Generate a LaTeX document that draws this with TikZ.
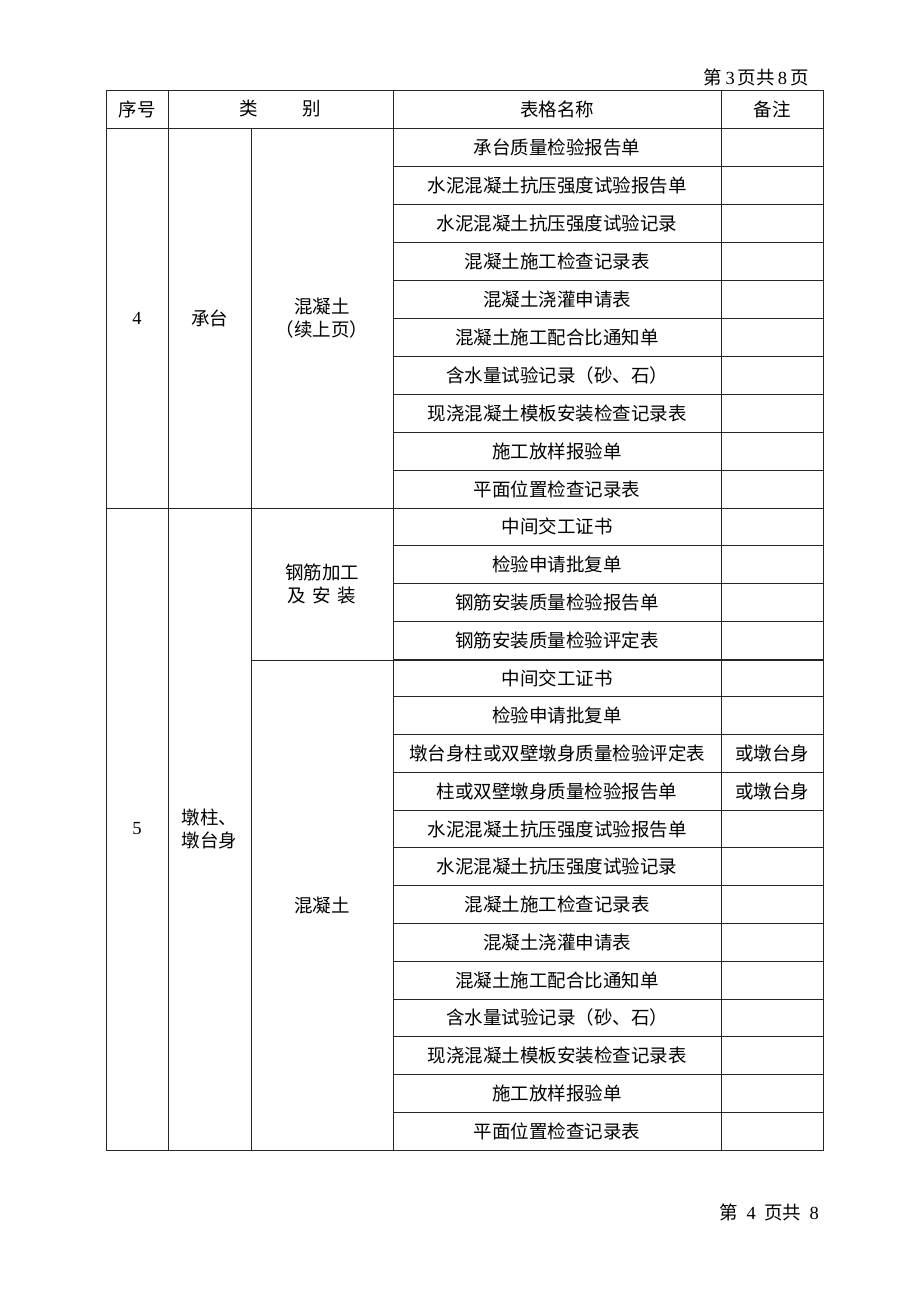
\documentclass[tikz,border=0pt]{standalone}
\usepackage{fontspec}
\setmainfont{Liberation Serif}
\newfontfamily\cjk{Noto Sans CJK SC}
\begin{document}
\begin{tikzpicture}[x=1pt,y=-1pt,
  cell/.style={inner sep=0pt,font=\cjk\fontsize{18.5}{23}\selectfont,align=center},
  grid/.style={line width=0.9pt,draw=black!85}]
\fill[white] (0,0) rectangle (920,1302);
\useasboundingbox (0,0) rectangle (920,1302);
% page headers
\node[cell,anchor=east] (ph1) at (809,77) {第{\rmfamily\,3\,}页共{\rmfamily\,8\,}页};
\node[cell,anchor=east] (ph2) at (819,1212) {第\hspace{0.45em}{\rmfamily 4}\hspace{0.45em}页共\hspace{0.45em}{\rmfamily 8}};
% outer frame and vertical lines
\draw[grid] (106,90) rectangle (823,1150);
\foreach \x in {168,393,721} \draw[grid] (\x,90) -- (\x,1150);
\draw[grid] (251,128) -- (251,1150);
% header line
\draw[grid] (106,128) -- (823,128);
% group lines
\draw[grid] (106,508) -- (823,508);
\draw[grid] (251,660) -- (823,660);
% row lines in the right columns
\foreach \k in {1,...,10} \draw[grid] (393,{128+38*\k}) -- (823,{128+38*\k});
\foreach \k in {1,...,16} \draw[grid] (393,{508+642/17*\k}) -- (823,{508+642/17*\k});
% header texts
\node[cell] (h1) at (137,109) {序号};
\node[cell] (h2) at (280,109) {类\hspace{2.4em}别};
\node[cell] (h3) at (557,109) {表格名称};
\node[cell] (h4) at (772,109) {备注};
% group 4
\node[cell] (g4n) at (137,318) {\rmfamily 4};
\node[cell] (g4a) at (209.5,318) {承台};
\node[cell] (g4b) at (322,318) {混凝土\\（续上页）};
\foreach \k/\t in {1/承台质量检验报告单,2/水泥混凝土抗压强度试验报告单,3/水泥混凝土抗压强度试验记录,4/混凝土施工检查记录表,5/混凝土浇灌申请表,6/混凝土施工配合比通知单,7/含水量试验记录（砂、石）,8/现浇混凝土模板安装检查记录表,9/施工放样报验单,10/平面位置检查记录表}
  \node[cell] (a\k) at (557,{128+38*(\k-0.5)}) {\t};
% group 5
\node[cell] (g5n) at (137,829) {\rmfamily 5};
\node[cell,align=left] (g5a) at (209.5,829) {墩柱、\\墩台身};
\node[cell] (g5b) at (322,584) {钢筋加工\\及\hspace{0.35em}安\hspace{0.35em}装};
\node[cell] (g5c) at (322,905) {混凝土};
\foreach \k/\t in {1/中间交工证书,2/检验申请批复单,3/钢筋安装质量检验报告单,4/钢筋安装质量检验评定表,5/中间交工证书,6/检验申请批复单,7/墩台身柱或双壁墩身质量检验评定表,8/柱或双壁墩身质量检验报告单,9/水泥混凝土抗压强度试验报告单,10/水泥混凝土抗压强度试验记录,11/混凝土施工检查记录表,12/混凝土浇灌申请表,13/混凝土施工配合比通知单,14/含水量试验记录（砂、石）,15/现浇混凝土模板安装检查记录表,16/施工放样报验单,17/平面位置检查记录表}
  \node[cell] (b\k) at (557,{508+642/17*(\k-0.5)}) {\t};
\node[cell] (r7) at (772,{508+642/17*6.5}) {或墩台身};
\node[cell] (r8) at (772,{508+642/17*7.5}) {或墩台身};
\end{tikzpicture}
\end{document}
